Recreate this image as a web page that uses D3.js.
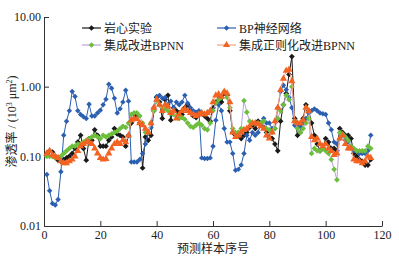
<!DOCTYPE html>
<html>
<head>
<meta charset="utf-8">
<script src="https://cdn.jsdelivr.net/npm/d3@7"></script>
<style>
  body { margin: 0; background: #fff; }
  text { font-family: 'Liberation Serif', 'Noto Sans CJK SC', serif; }
</style>
</head>
<body>
<div id="chart"></div>
<script>
// permeability values, sample 1..116
const core = [
  0.11, 0.12, 0.115, 0.1, 0.088, 0.085, 0.09, 0.095, 0.1, 0.11, 0.13, 0.16, 0.2, 0.13, 0.088, 0.18,
  0.17, 0.24, 0.2, 0.14, 0.14, 0.14, 0.17, 0.19, 0.25, 0.21, 0.2, 0.19, 0.14, 0.2,
  0.3, 0.4, 0.38, 0.3, 0.068, 0.19, 0.17, 0.2, 0.45, 0.7, 0.6, 0.35, 0.65, 0.75, 0.33, 0.5,
  0.45, 0.42, 0.4, 0.5, 0.55, 0.45, 0.38, 0.36, 0.4, 0.42, 0.38, 0.35, 0.32, 0.5, 0.6, 0.75,
  0.6, 0.8, 0.75, 0.45, 0.22, 0.2, 0.2, 0.18, 0.2, 0.22, 0.26, 0.28, 0.25, 0.32, 0.3, 0.26,
  0.22, 0.19, 0.18, 0.15, 0.12, 0.32, 0.55, 0.8, 1.5, 2.7, 0.35, 0.2, 0.22, 0.35, 0.55, 0.45,
  0.3, 0.2, 0.15, 0.12, 0.13, 0.18, 0.16, 0.13, 0.13, 0.12, 0.25, 0.22, 0.2, 0.2, 0.18, 0.11,
  0.1, 0.09, 0.085, 0.075, 0.075, 0.09
]
const bp = [
  0.055, 0.032, 0.021, 0.02, 0.024, 0.06, 0.2, 0.32, 0.45, 0.85, 0.72, 0.45, 0.4, 0.37, 0.35, 0.56,
  0.38, 0.38, 0.42, 0.46, 0.55, 0.66, 1.08, 0.95, 0.68, 0.42, 0.48, 0.6, 0.89, 0.62,
  0.083, 0.083, 0.083, 0.09, 0.11, 0.15, 0.22, 0.26, 0.5, 0.72, 0.75, 0.68, 0.7, 0.55, 0.62, 0.5,
  0.6, 0.55, 0.6, 0.75, 0.58, 0.5, 0.45, 0.43, 0.45, 0.095, 0.093, 0.093, 0.095, 0.14, 0.33, 0.55,
  0.45, 0.25, 0.16, 0.16, 0.11, 0.063, 0.065, 0.075, 0.11, 0.2, 0.17, 0.22, 0.2, 0.22, 0.3, 0.35,
  0.3, 0.3, 0.25, 0.25, 0.5, 0.85, 1.05, 0.9, 0.7, 0.5, 0.28, 0.27, 0.27, 0.3, 0.35, 0.42,
  0.45, 0.48, 0.45, 0.42, 0.41, 0.4, 0.3, 0.24, 0.16, 0.15, 0.18, 0.2, 0.17, 0.16, 0.14, 0.12,
  0.12, 0.11, 0.11, 0.11, 0.12, 0.2
]
const improved = [
  0.1, 0.1, 0.1, 0.095, 0.095, 0.1, 0.11, 0.12, 0.13, 0.14, 0.14, 0.15, 0.15, 0.16, 0.17, 0.18,
  0.19, 0.2, 0.19, 0.18, 0.2, 0.19, 0.2, 0.21, 0.22, 0.23, 0.25, 0.27, 0.26, 0.3,
  0.4, 0.42, 0.42, 0.38, 0.3, 0.22, 0.22, 0.3, 0.45, 0.62, 0.55, 0.5, 0.48, 0.45, 0.42, 0.4,
  0.38, 0.35, 0.36, 0.34, 0.3, 0.27, 0.26, 0.28, 0.3, 0.28, 0.25, 0.24, 0.3, 0.45, 0.58, 0.65,
  0.7, 0.85, 0.7, 0.5, 0.25, 0.22, 0.22, 0.25, 0.63, 0.43, 0.32, 0.3, 0.3, 0.3, 0.3, 0.32,
  0.25, 0.24, 0.22, 0.25, 0.35, 0.45, 0.55, 0.75, 0.65, 1.0, 0.32, 0.25, 0.22, 0.25, 0.3, 0.35,
  0.11, 0.13, 0.12, 0.12, 0.13, 0.12, 0.11, 0.09, 0.065, 0.046, 0.22, 0.21, 0.19, 0.17, 0.14, 0.13,
  0.12, 0.12, 0.12, 0.12, 0.14, 0.13
]
const regularized = [
  0.11, 0.12, 0.105, 0.1, 0.095, 0.085, 0.08, 0.08, 0.085, 0.09, 0.1, 0.12, 0.14, 0.15, 0.16, 0.16,
  0.15, 0.13, 0.11, 0.095, 0.09, 0.092, 0.11, 0.13, 0.15, 0.16, 0.15, 0.17, 0.16, 0.2,
  0.33, 0.35, 0.34, 0.3, 0.28, 0.25, 0.22, 0.3, 0.5, 0.65, 0.55, 0.45, 0.55, 0.52, 0.42, 0.45,
  0.35, 0.4, 0.45, 0.48, 0.45, 0.42, 0.4, 0.38, 0.4, 0.42, 0.4, 0.42, 0.45, 0.6, 0.75, 0.78,
  0.72, 0.85, 0.8, 0.6, 0.22, 0.19, 0.2, 0.22, 0.24, 0.25, 0.27, 0.3, 0.3, 0.29, 0.27, 0.25,
  0.2, 0.18, 0.22, 0.32, 0.5, 0.9, 1.3, 1.7, 1.75, 1.2, 0.32, 0.3, 0.3, 0.33, 0.5, 0.45,
  0.19, 0.17, 0.18, 0.15, 0.14, 0.15, 0.13, 0.12, 0.105, 0.11, 0.18, 0.2, 0.15, 0.13, 0.13, 0.09,
  0.085, 0.085, 0.08, 0.085, 0.1, 0.095
]
const seriesNames = ['岩心实验', 'BP神经网络', '集成改进BPNN', '集成正则化改进BPNN']
const yTicks = [0.01, 0.1, 1, 10]
const xTicks = [0, 20, 40, 60, 80, 100, 120]

const width = 399
const height = 259
const plotLeft = 44
const plotRight = 382
const plotTop = 17
const plotBottom = 226

const styles = [
  { line: '#1a1a1a', fill: '#1a1a1a', symbol: 'diamond', size: 22 },
  { line: '#2b5fb0', fill: '#2b5fb0', symbol: 'diamond', size: 20 },
  { line: '#b9a3dc', fill: '#6cbf3c', symbol: 'diamond', size: 22 },
  { line: '#f6a27e', fill: '#f26322', symbol: 'triangle', size: 22 }
]
const allData = [core, bp, improved, regularized]
const samples = d3.range(1, core.length + 1)

const x = d3.scaleLinear().domain([0, 120]).range([plotLeft, plotRight])
const y = d3.scaleLog().domain([0.01, 10]).range([plotBottom, plotTop])

const svg = d3.select('#chart').append('svg')
  .attr('width', width)
  .attr('height', height)

svg.append('rect').attr('width', width).attr('height', height).attr('fill', '#fff')

svg.append('g')
  .attr('transform', 'translate(' + plotLeft + ',0)')
  .call(d3.axisLeft(y).tickValues(yTicks).tickFormat(d3.format('.2f'))
    .tickSizeInner(-5).tickSizeOuter(0).tickPadding(3))
svg.append('g')
  .attr('transform', 'translate(0,' + plotBottom + ')')
  .call(d3.axisBottom(x).tickValues(xTicks)
    .tickSizeInner(-5).tickSizeOuter(0).tickPadding(4))

svg.selectAll('.domain').attr('stroke', '#333').attr('stroke-width', 1)
svg.selectAll('.tick line').attr('stroke', '#333')
svg.selectAll('.tick text').attr('font-size', 12).attr('fill', '#222')
  .attr('font-family', "'Liberation Serif', serif")

const symbolPath = (s) => {
  if (s.symbol === 'triangle') return d3.symbol(d3.symbolTriangle, s.size)()
  return d3.symbol(d3.symbolSquare, s.size * 0.75)()
}
const symbolTransform = (s, px, py) => {
  return s.symbol === 'triangle'
    ? 'translate(' + px + ',' + py + ')'
    : 'translate(' + px + ',' + py + ') rotate(45)'
}

const line = d3.line()
  .x((d, i) => x(samples[i]))
  .y(d => y(d))

allData.forEach((data, k) => {
  const s = styles[k]
  const g = svg.append('g')
  g.append('path')
    .attr('d', line(data))
    .attr('fill', 'none')
    .attr('stroke', s.line)
    .attr('stroke-width', 1)
  g.selectAll('path.pt')
    .data(data)
    .enter().append('path')
    .attr('class', 'pt')
    .attr('d', symbolPath(s))
    .attr('fill', s.fill)
    .attr('transform', (d, i) => symbolTransform(s, x(samples[i]), y(d)))
})

// legend
const legendPos = [[82, 28], [217, 28], [82, 45], [217, 45]]
seriesNames.forEach((name, k) => {
  const s = styles[k]
  const [lx, ly] = legendPos[k]
  const g = svg.append('g')
  g.append('line')
    .attr('x1', lx).attr('x2', lx + 19)
    .attr('y1', ly).attr('y2', ly)
    .attr('stroke', s.line).attr('stroke-width', 1.2)
  g.append('path')
    .attr('d', symbolPath(s))
    .attr('fill', s.fill)
    .attr('transform', symbolTransform(s, lx + 9.5, ly))
  g.append('text')
    .attr('x', lx + 22).attr('y', ly + 4.5)
    .attr('font-size', 12)
    .attr('fill', '#222')
    .text(name)
})

svg.append('text')
  .attr('transform', 'translate(16,' + ((plotTop + plotBottom) / 2) + ') rotate(-90)')
  .attr('text-anchor', 'middle')
  .attr('font-size', 12)
  .attr('fill', '#222')
  .html('渗透率 / (10<tspan dy="-4" font-size="8">3</tspan><tspan dy="4"> μm</tspan><tspan dy="-4" font-size="8">2</tspan><tspan dy="4">)</tspan>')

svg.append('text')
  .attr('x', (plotLeft + plotRight) / 2)
  .attr('y', 253)
  .attr('text-anchor', 'middle')
  .attr('font-size', 12)
  .attr('fill', '#222')
  .text('预测样本序号')
</script>
</body>
</html>
